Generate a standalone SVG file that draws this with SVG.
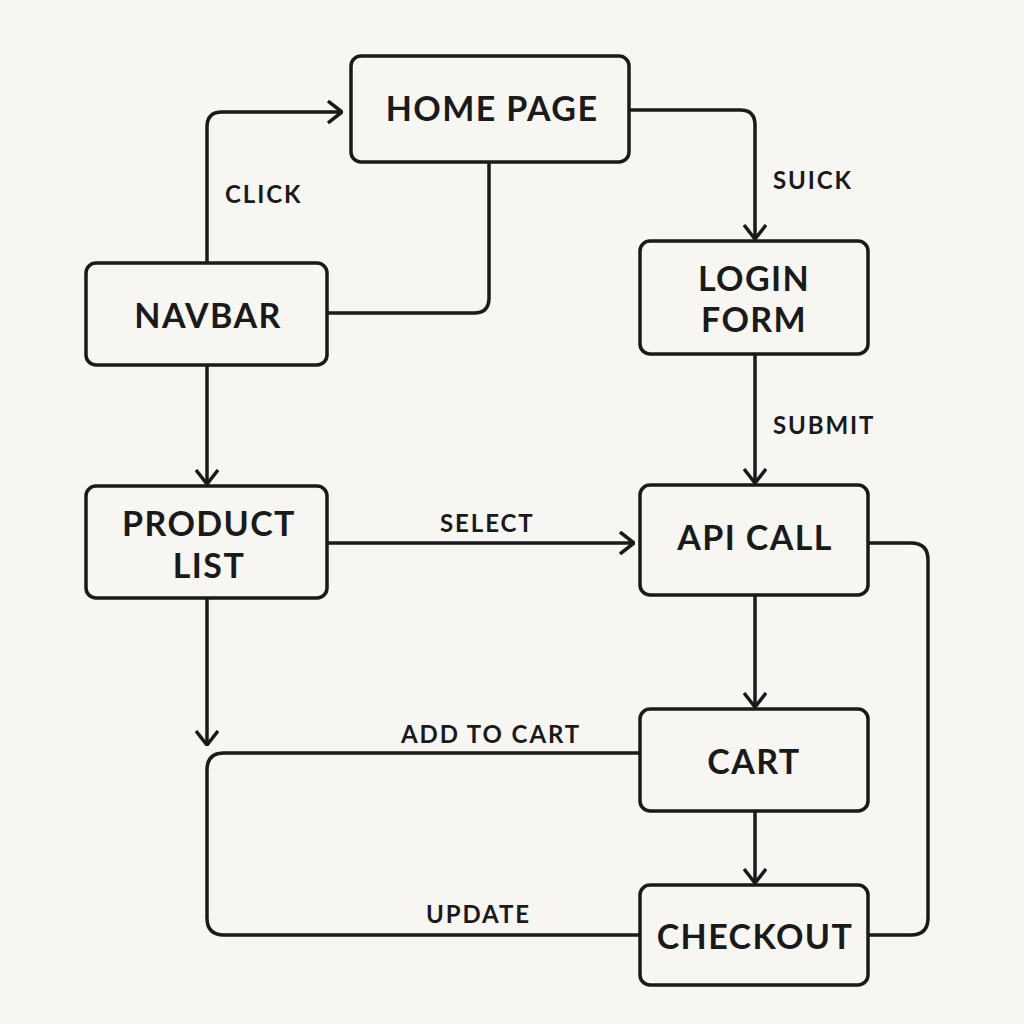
<svg xmlns="http://www.w3.org/2000/svg" width="1024" height="1024" viewBox="0 0 1024 1024">
<defs>
<style>
.node rect{fill:#f7f6f3;stroke:#1a1a1a;stroke-width:3.5}
.node text{font-family:Lato,"Noto Sans",sans-serif;font-weight:700;font-size:34px;letter-spacing:1.4px;fill:#1a1a1a;text-anchor:middle}
.edge{fill:none;stroke:#1a1a1a;stroke-width:3.5;stroke-linejoin:round}
.lbl{font-family:Lato,"Noto Sans",sans-serif;font-weight:700;font-size:24px;letter-spacing:1.9px;fill:#1a1a1a}
</style>
<marker id="arr" markerUnits="userSpaceOnUse" viewBox="0 0 16 24" refX="15" refY="12" markerWidth="16" markerHeight="24" orient="auto">
<path d="M1,1 L15,12 L1,23" fill="none" stroke="#1a1a1a" stroke-width="3.5" stroke-linejoin="miter"/>
</marker>
</defs>
<rect width="1024" height="1024" fill="#f7f6f3"/>
<g id="connectors">
<path class="edge" d="M207,263 V127 Q207,112 222,112 H342" marker-end="url(#arr)"/>
<path class="edge" d="M489,162 V298 Q489,313 474,313 H327"/>
<path class="edge" d="M629,110 H740 Q755,110 755,125 V239" marker-end="url(#arr)"/>
<path class="edge" d="M755,354 V483" marker-end="url(#arr)"/>
<path class="edge" d="M207,365 V484" marker-end="url(#arr)"/>
<path class="edge" d="M327,543 H634" marker-end="url(#arr)"/>
<path class="edge" d="M755,595 V707" marker-end="url(#arr)"/>
<path class="edge" d="M755,811 V883" marker-end="url(#arr)"/>
<path class="edge" d="M207,598 V745" marker-end="url(#arr)"/>
<path class="edge" d="M640,753 H224 Q207,753 207,770 V918 Q207,935 224,935 H640"/>
<path class="edge" d="M868,543 H911 Q928,543 928,560 V918 Q928,935 911,935 H868"/>
<text class="lbl" x="225" y="203">CLICK</text>
<text class="lbl" x="773" y="189">SUICK</text>
<text class="lbl" x="773" y="434">SUBMIT</text>
<text class="lbl" x="440" y="532">SELECT</text>
<text class="lbl" x="401" y="743">ADD TO CART</text>
<text class="lbl" x="426" y="923">UPDATE</text>
</g>
<g id="home" class="node"><rect x="351" y="56" width="278" height="106" rx="10"/><text x="492" y="121">HOME PAGE</text></g>
<g id="navbar" class="node"><rect x="86" y="263" width="241" height="102" rx="10"/><text x="208" y="328">NAVBAR</text></g>
<g id="login" class="node"><rect x="640" y="241" width="228" height="113" rx="10"/><text x="754" y="291">LOGIN</text><text x="754" y="332">FORM</text></g>
<g id="products" class="node"><rect x="86" y="486" width="241" height="112" rx="10"/><text x="209" y="536">PRODUCT</text><text x="209" y="578">LIST</text></g>
<g id="api" class="node"><rect x="640" y="485" width="228" height="110" rx="10"/><text x="755" y="550">API CALL</text></g>
<g id="cart" class="node"><rect x="640" y="709" width="228" height="102" rx="10"/><text x="754" y="774">CART</text></g>
<g id="checkout" class="node"><rect x="640" y="885" width="228" height="100" rx="10"/><text x="755" y="949">CHECKOUT</text></g>
</svg>
